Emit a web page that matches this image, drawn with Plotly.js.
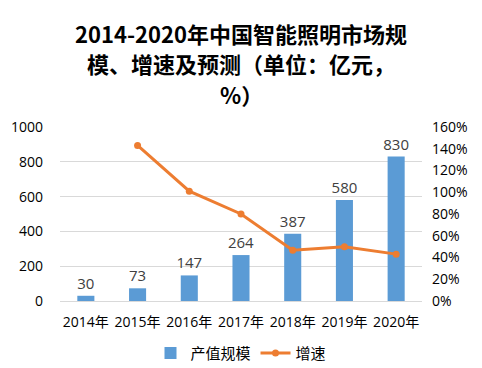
<!DOCTYPE html>
<html><head><meta charset="utf-8">
<script src="https://cdn.plot.ly/plotly-3.0.1.min.js"></script>
<style>body{margin:0;background:#fff}#c{width:482px;height:368px}</style>
</head><body><div id="c"></div>
<script>
const years = ['2014年','2015年','2016年','2017年','2018年','2019年','2020年'];
const marketSize = [30, 73, 147, 264, 387, 580, 830];
const growthYears = ['2015年','2016年','2017年','2018年','2019年','2020年'];
const growthRate = [1.43, 1.01, 0.80, 0.466, 0.499, 0.431];
const titleLines = ['2014-2020年中国智能照明市场规', '模、增速及预测（单位：亿元，', '%）'];
const FONT = 'Open Sans, Noto Sans CJK SC, sans-serif';

const traces = [
  {type:'bar', x:years, y:marketSize, name:'产值规模', marker:{color:'#5B9BD5'}, width:0.33,
   text:marketSize.map(String), textposition:'outside', cliponaxis:false, constraintext:'none',
   textfont:{size:15, color:'#404040', family:FONT}, hoverinfo:'skip'},
  {type:'scatter', mode:'lines+markers', x:growthYears, y:growthRate, name:'增速', yaxis:'y2',
   line:{color:'#ED7D31', width:3}, marker:{color:'#ED7D31', size:7}}
];
const titleY = [33, 63, 94];
const annotations = titleLines.map((t,i)=>({
  text:'<b>'+t+'</b>', xref:'paper', yref:'paper', x:0.5, xanchor:'center',
  y:(301-titleY[i])/174, yanchor:'middle', showarrow:false,
  font:{size:22, color:'#000', family:'Noto Sans CJK SC, sans-serif'}
}));
const layout = {
  width:482, height:368, margin:{l:60, r:60, t:127, b:67},
  paper_bgcolor:'#fff', plot_bgcolor:'#fff',
  font:{family:FONT, color:'#404040', size:14},
  annotations:annotations,
  xaxis:{type:'category', categoryorder:'array', categoryarray:years, range:[-0.5,6.5],
         showline:true, linecolor:'#d9d9d9', ticks:'', tickfont:{size:14, color:'#000'}, ticklabelstandoff:8},
  yaxis:{range:[0,1000], dtick:200, showgrid:true, gridcolor:'#d9d9d9', zeroline:false,
         ticks:'', tickfont:{size:14, color:'#000'}, ticklabelstandoff:16},
  yaxis2:{overlaying:'y', side:'right', range:[0,1.6], dtick:0.2, tickformat:'.0%', showgrid:false,
          zeroline:false, ticks:'', tickfont:{size:14, color:'#000'}, ticklabelstandoff:9},
  legend:{orientation:'h', x:0.5, xanchor:'center', yref:'container', y:0.04, yanchor:'middle',
          font:{size:15, color:'#000'}, itemwidth:30, tracegroupgap:0},
  showlegend:true, bargap:0.5
};
Plotly.newPlot('c', traces, layout, {displayModeBar:false, staticPlot:true});
</script></body></html>
